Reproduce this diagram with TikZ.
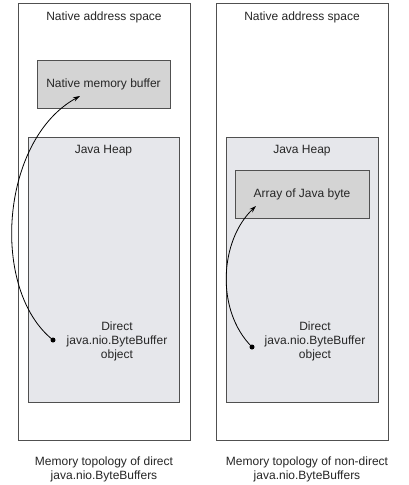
\documentclass[tikz,border=0pt]{standalone}
\usepackage{fontspec}
\setmainfont{Liberation Sans}
\usetikzlibrary{arrows.meta}
\definecolor{bord}{HTML}{505050}
\definecolor{buf}{HTML}{D4D4D4}
\definecolor{heap}{HTML}{E6E7EB}
\tikzset{
  box/.style={draw=bord, line width=0.9pt, rectangle, inner sep=0pt},
  lbl/.style={font=\fontsize{12}{14}\selectfont, text=black!85, inner sep=0pt, align=center},
  dotnode/.style={circle, fill=black, inner sep=0pt, minimum size=5pt},
  link/.style={line width=0.8pt, -{Stealth[length=7pt,width=4.5pt]}}
}
\begin{document}
\begin{tikzpicture}[x=1pt,y=-1pt]
\useasboundingbox[fill=white] (0,0) rectangle (408,485);
% left
\node[box, minimum width=172pt, minimum height=437pt] (lout) at (104,221.5) {};
\node[lbl] (ltitle) at (104,17) {Native address space};
\node[box, fill=buf, minimum width=133pt, minimum height=48pt] (lbuf) at (103.5,84) {};
\node[lbl] (lbuft) at (103.5,84) {Native memory buffer};
\node[box, fill=heap, minimum width=151pt, minimum height=265pt] (lheap) at (103.5,269.5) {};
\node[lbl] (lheapt) at (103.5,151) {Java Heap};
\node[lbl] (lobj) at (117,341) {Direct\\java.nio.ByteBuffer\\object};
\node[dotnode] (ldot) at (53,340) {};
\coordinate (ltip) at (80,96);
\draw[link] (ldot.center) .. controls (-10,290) and (0,140) .. (ltip);
\node[lbl] (lcap) at (104,469.5) {Memory topology of direct\\java.nio.ByteBuffers};
% right
\node[box, minimum width=172pt, minimum height=437pt] (rout) at (302,221.5) {};
\node[lbl] (rtitle) at (302,17) {Native address space};
\node[box, fill=heap, minimum width=152pt, minimum height=265pt] (rheap) at (302,269.5) {};
\node[lbl] (rheapt) at (302,151) {Java Heap};
\node[box, fill=buf, minimum width=134pt, minimum height=48pt] (rarr) at (302,194) {};
\node[lbl] (rarrt) at (302,194) {Array of Java byte};
\node[lbl] (robj) at (315,341) {Direct\\java.nio.ByteBuffer\\object};
\node[dotnode] (rdot) at (252,347) {};
\coordinate (rtip) at (256,206);
\draw[link] (rdot.center) .. controls (215,310) and (220,240) .. (rtip);
\node[lbl] (rcap) at (307,469.5) {Memory topology of non-direct\\java.nio.ByteBuffers};
\end{tikzpicture}
\end{document}
